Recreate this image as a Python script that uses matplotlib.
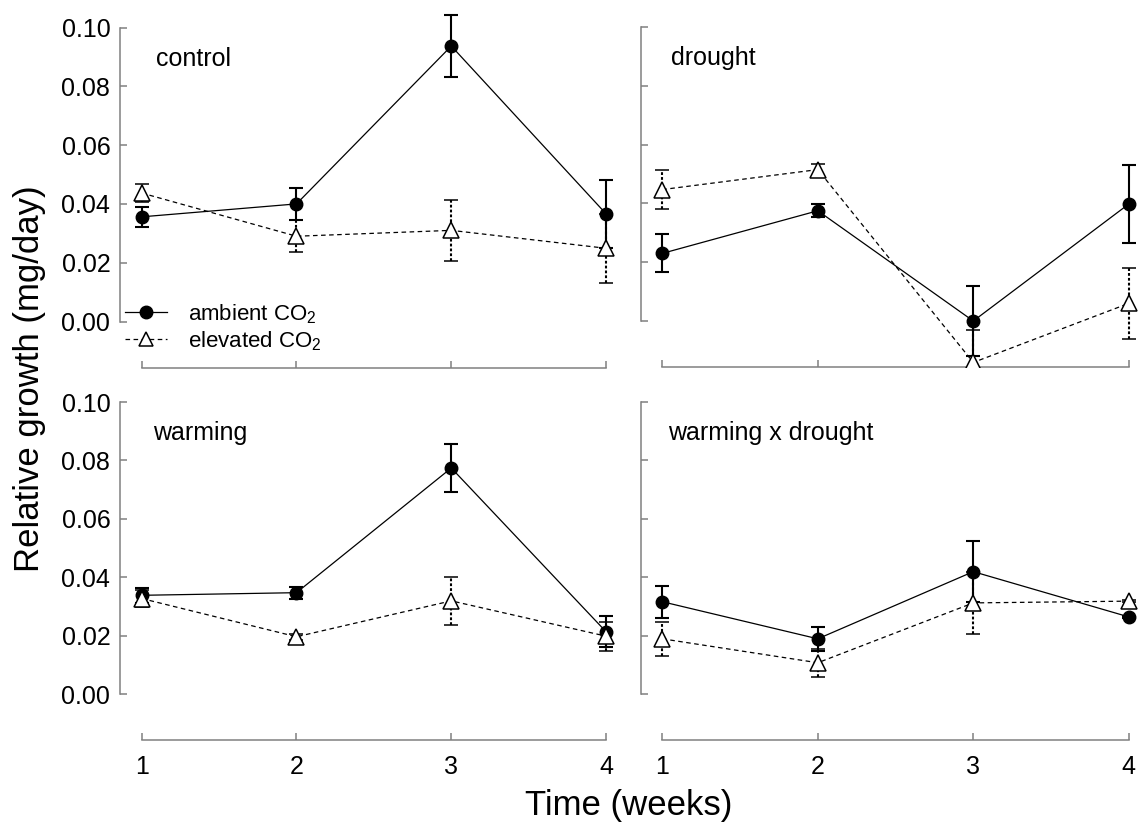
import matplotlib
matplotlib.use("Agg")
import matplotlib.pyplot as plt
from matplotlib.lines import Line2D

plt.rcParams['font.family'] = ['Liberation Sans', 'DejaVu Sans']
plt.rcParams['mathtext.fontset'] = 'custom'
plt.rcParams['mathtext.rm'] = 'Liberation Sans'
plt.rcParams['mathtext.it'] = 'Liberation Sans:italic'
plt.rcParams['mathtext.default'] = 'regular'
plt.rcParams['lines.scale_dashes'] = False

weeks = [1, 2, 3, 4]
y_ticks = [0.0, 0.02, 0.04, 0.06, 0.08, 0.10]

# mean and standard error
control_amb = [0.0356, 0.0400, 0.0937, 0.0366]
control_amb_se = [0.0035, 0.0055, 0.0105, 0.0115]
control_elev = [0.0437, 0.0290, 0.0310, 0.0249]
control_elev_se = [0.0029, 0.0055, 0.0104, 0.0117]

drought_amb = [0.0230, 0.0375, 0.0000, 0.0398]
drought_amb_se = [0.0065, 0.0022, 0.0118, 0.0132]
drought_elev = [0.0447, 0.0515, -0.0141, 0.0060]
drought_elev_se = [0.0065, 0.0020, 0.0112, 0.0121]

warming_amb = [0.0338, 0.0347, 0.0774, 0.0213]
warming_amb_se = [0.0026, 0.0020, 0.0083, 0.0053]
warming_elev = [0.0327, 0.0196, 0.0319, 0.0198]
warming_elev_se = [0.0030, 0.0010, 0.0083, 0.0050]

wd_amb = [0.0316, 0.0189, 0.0419, 0.0264]
wd_amb_se = [0.0055, 0.0041, 0.0104, 0.0004]
wd_elev = [0.0189, 0.0107, 0.0312, 0.0318]
wd_elev_se = [0.0058, 0.0048, 0.0107, 0.0004]

W, H = 1138, 823
XLIM = (0.86, 4.06)
YLIM = (-0.0157, 0.105)
GREY = '#808080'


def place(x1px, ux, y0px, uy):
    left = x1px + (XLIM[0] - 1) * ux
    right = x1px + (XLIM[1] - 1) * ux
    top = y0px - YLIM[1] * uy
    bottom = y0px - YLIM[0] * uy
    return [left / W, 1 - bottom / H, (right - left) / W, (bottom - top) / H]


def draw(ax, amb, amb_se, elev, elev_se, label, lx, show_x, show_y):
    ax.errorbar(weeks, amb, yerr=amb_se, fmt='-o', color='black', ms=9,
                lw=0.9, elinewidth=1.5, capsize=4.7, capthick=1.5, zorder=3)
    eb = ax.errorbar(weeks, elev, yerr=elev_se, fmt='^', color='black',
                     mfc='white', mec='black', ms=12, mew=1.1, ls='--',
                     lw=0.9, elinewidth=1.5, capsize=4.7, capthick=1.5, zorder=4)
    eb[0].set_dashes([3.3, 2.5])
    eb[2][0].set_linestyle((0, (2.0, 1.5)))

    ax.set_xlim(*XLIM)
    ax.set_ylim(*YLIM)
    for s in ['top', 'right']:
        ax.spines[s].set_visible(False)
    for s in ['left', 'bottom']:
        ax.spines[s].set_color(GREY)
        ax.spines[s].set_linewidth(1.1)
    ax.spines['left'].set_bounds(0, 0.10)
    ax.spines['bottom'].set_bounds(1, 4)
    ax.set_xticks(weeks)
    ax.set_yticks(y_ticks)
    ax.set_yticklabels(['%.2f' % v for v in y_ticks])
    ax.tick_params(direction='in', length=5, width=1.1, color=GREY,
                   labelsize=18, labelcolor='black')
    ax.tick_params(axis='y', pad=7)
    ax.tick_params(axis='x', pad=11)
    ax.tick_params(labelbottom=show_x, labelleft=show_y)
    ax.patch.set_alpha(0)
    ax.text(lx, 0.087, label, fontsize=18, va='baseline')


fig = plt.figure(figsize=(W / 100, H / 100), dpi=100)

ax1 = fig.add_axes(place(141.7, 154.8, 321.5, 2940))
ax2 = fig.add_axes(place(662.3, 155.5, 321.0, 2940))
ax3 = fig.add_axes(place(141.7, 154.8, 694.0, 2920))
ax4 = fig.add_axes(place(662.3, 155.5, 694.0, 2920))

draw(ax1, control_amb, control_amb_se, control_elev, control_elev_se,
     'control', 1.09, False, True)
draw(ax2, drought_amb, drought_amb_se, drought_elev, drought_elev_se,
     'drought', 1.054, False, False)
draw(ax3, warming_amb, warming_amb_se, warming_elev, warming_elev_se,
     'warming', 1.073, True, True)
draw(ax4, wd_amb, wd_amb_se, wd_elev, wd_elev_se,
     'warming x drought', 1.037, True, False)

handles = [
    Line2D([], [], color='black', marker='o', ms=9, lw=0.9),
    Line2D([], [], color='black', ls=(0, (3.3, 2.5)), marker='^',
           mfc='white', mec='black', ms=10, mew=1.1, lw=0.9),
]
ax1.legend(handles, [r'ambient CO$_2$', r'elevated CO$_2$'],
           loc='upper left', bbox_to_anchor=(0.01, 0.185), frameon=False,
           fontsize=16, handlelength=1.9, handletextpad=0.95, borderpad=0,
           borderaxespad=0, labelspacing=0.15)

fig.text(30 / W, 1 - 378.5 / H, 'Relative growth (mg/day)', rotation=90,
         fontsize=25, ha='center', va='center')
fig.text(629 / W, 8 / H, 'Time (weeks)', fontsize=25, ha='center',
         va='baseline')

fig.savefig('out.png', dpi=100)
